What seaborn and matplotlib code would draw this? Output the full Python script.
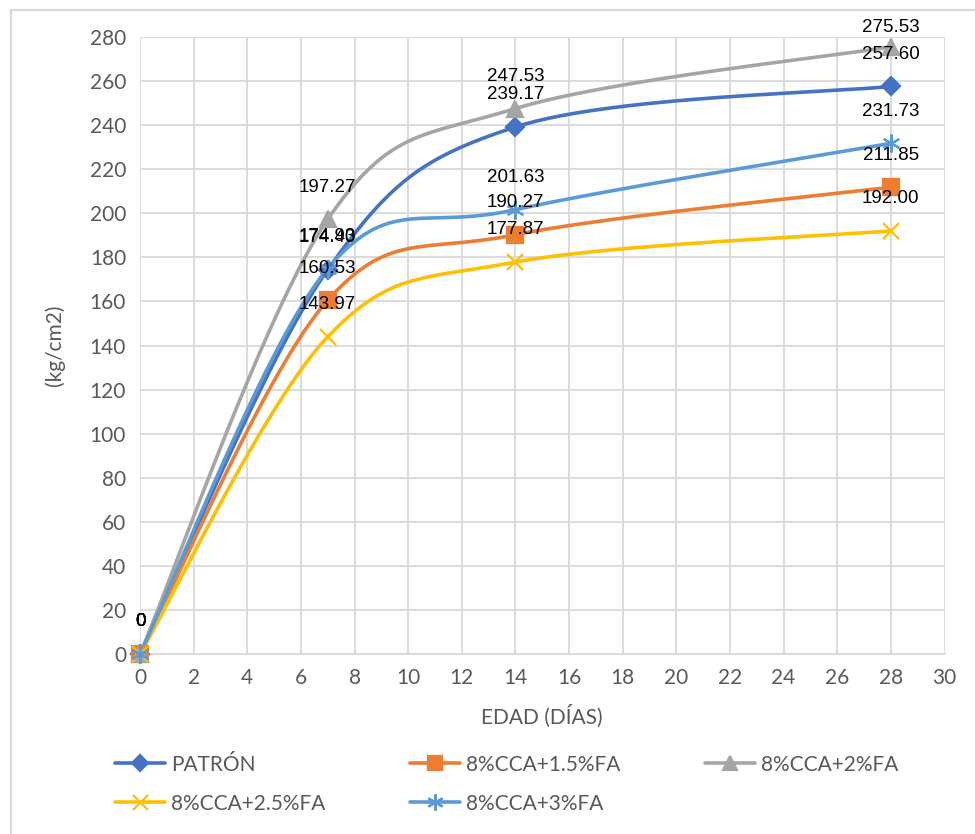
import numpy as np
import pandas as pd
import matplotlib
matplotlib.use("Agg")
import matplotlib.pyplot as plt
from matplotlib.lines import Line2D
from matplotlib.patches import Rectangle
import seaborn as sns

# ---- data ----
dias = [0, 7, 14, 28]
series_names = ["PATRÓN", "8%CCA+1.5%FA", "8%CCA+2%FA", "8%CCA+2.5%FA", "8%CCA+3%FA"]
patron = [0, 174.40, 239.17, 257.60]
cca_15 = [0, 160.53, 190.27, 211.85]
cca_20 = [0, 197.27, 247.53, 275.53]
cca_25 = [0, 143.97, 177.87, 192.00]
cca_30 = [0, 174.93, 201.63, 231.73]
label_texts = {
    "PATRÓN": ["0", "174.40", "239.17", "257.60"],
    "8%CCA+1.5%FA": ["0", "160.53", "190.27", "211.85"],
    "8%CCA+2%FA": ["0", "197.27", "247.53", "275.53"],
    "8%CCA+2.5%FA": ["0", "143.97", "177.87", "192.00"],
    "8%CCA+3%FA": ["0", "174.93", "201.63", "231.73"],
}
x_ticks = list(range(0, 31, 2))
y_ticks = list(range(0, 281, 20))

values = [patron, cca_15, cca_20, cca_25, cca_30]
colors = ["#4472C4", "#ED7D31", "#A5A5A5", "#FFC000", "#5B9BD5"]
markers = ["D", "s", "^", "x", (6, 2, 0)]
msizes = [9, 11, 11, 12, 13]


def smooth(xs, ys, n=60):
    """Excel-like Catmull-Rom / Bezier smoothing."""
    P = np.column_stack([xs, ys]).astype(float)
    out = []
    m = len(P)
    for i in range(m - 1):
        p0 = P[max(i - 1, 0)]
        p1 = P[i]
        p2 = P[i + 1]
        p3 = P[min(i + 2, m - 1)]
        c1 = p1 + (p2 - p0) / 6.0
        c2 = p2 - (p3 - p1) / 6.0
        t = np.linspace(0, 1, n)[:, None]
        seg = ((1 - t) ** 3) * p1 + 3 * ((1 - t) ** 2) * t * c1 + 3 * (1 - t) * t ** 2 * c2 + t ** 3 * p2
        out.append(seg if i == 0 else seg[1:])
    seg = np.vstack(out)
    return seg[:, 0], seg[:, 1]


sns.set_theme(style="white")
plt.rcParams["font.family"] = ["Lato", "DejaVu Sans"]

fig = plt.figure(figsize=(9.75, 8.34), dpi=100)
ax = fig.add_axes([140 / 975, 1 - 654 / 834, (944.5 - 140) / 975, (654 - 37) / 834])

# chart border
fig.patches.append(Rectangle((11 / 975, -0.05), 1.2, 1 - 10 / 834 + 0.05, transform=fig.transFigure,
                             fill=False, edgecolor="#D9D9D9", linewidth=1.5))

for name, vals, col, mk, ms in zip(series_names, values, colors, markers, msizes):
    sx, sy = smooth(dias, vals)
    df = pd.DataFrame({"x": sx, "y": sy, "order": np.arange(len(sx))})
    sns.lineplot(data=df, x="x", y="y", sort=False, estimator=None, color=col,
                 linewidth=2.6, ax=ax, zorder=3)
    ax.plot(dias, vals, linestyle="none", marker=mk, markersize=ms, color=col,
            markeredgecolor=col, markeredgewidth=1.6, zorder=4, clip_on=False)

# data labels
for name, vals in zip(series_names, values):
    for xv, yv, txt in zip(dias, vals, label_texts[name]):
        ly = min(yv + 14.6, 284.2)
        ax.text(xv, ly, txt, ha="center", va="center", fontsize=13.5, color="black",
                family=["Liberation Sans", "DejaVu Sans"], zorder=6, clip_on=False)

ax.set_xlim(0, 30)
ax.set_ylim(0, 280)
ax.set_xticks(x_ticks)
ax.set_yticks(y_ticks)
ax.grid(True, color="#D9D9D9", linewidth=1.3)
ax.set_axisbelow(True)
for s in ["top", "right", "left"]:
    ax.spines[s].set_visible(False)
ax.spines["bottom"].set_color("#D9D9D9")
ax.spines["bottom"].set_linewidth(1.3)
ax.tick_params(axis="both", length=0, labelsize=15, labelcolor="#595959", pad=10)
ax.set_xlabel("EDAD (DÍAS)", fontsize=15, color="#595959", labelpad=12)
ax.set_ylabel("(kg/cm2)", fontsize=15, color="#595959", labelpad=18)

handles = [Line2D([0], [0], color=c, linewidth=2.6, marker=m, markersize=ms * 0.9,
                  markeredgecolor=c, markeredgewidth=1.6)
           for c, m, ms in zip(colors, markers, msizes)]
# matplotlib fills legend columns first; reorder so rows read like the reference
order = [0, 3, 1, 4, 2]
fig.legend([handles[i] for i in order], [series_names[i] for i in order], ncol=3,
           loc="upper left", bbox_to_anchor=(96 / 975, 1 - 736 / 834), frameon=False,
           fontsize=15, labelcolor="#595959", handlelength=2.4, handletextpad=0.3,
           columnspacing=4.05, labelspacing=0.9)

fig.savefig("out.png", dpi=100, facecolor="white")
